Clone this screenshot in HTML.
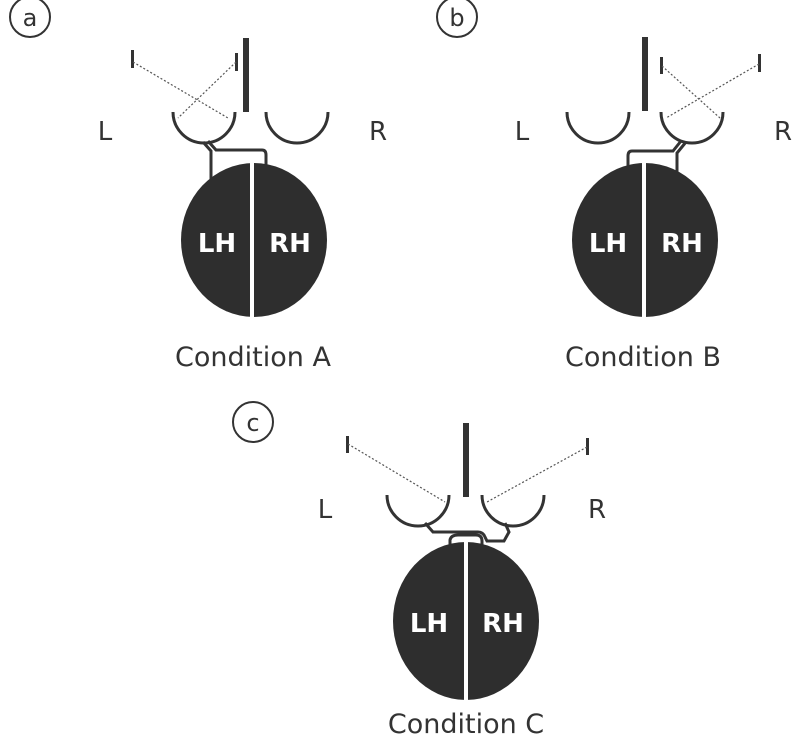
<!DOCTYPE html>
<html><head><style>body{margin:0;background:#fff}svg{display:block}</style></head><body>
<svg width="794" height="743" viewBox="0 0 794 743" xmlns="http://www.w3.org/2000/svg" font-family="'DejaVu Sans','Liberation Sans',sans-serif">
<g fill="none" stroke="#333" stroke-width="3">
<!-- labels circles -->
<circle cx="30" cy="17" r="20" stroke-width="2"/>
<circle cx="457" cy="17" r="20" stroke-width="2"/>
<circle cx="253" cy="422" r="20" stroke-width="2"/>
<!-- A cups -->
<path d="M173 112 A31 31 0 0 0 235 112"/>
<path d="M266 112 A31 31 0 0 0 328 112"/>
<path d="M208 141 L216 150 L262 150 Q266 150 266 155 L266 170"/>
<path d="M203 142 L211 151 L211 182"/>
<!-- B cups -->
<path d="M567 112 A31 31 0 0 0 629 112"/>
<path d="M661 112 A31 31 0 0 0 723 112"/>
<path d="M681 141 L673 151 L632 151 Q628 151 628 156 L628 172"/>
<path d="M686 142 L677 153 L677 172"/>
<!-- C cups -->
<path d="M387 495 A31 31 0 0 0 449 495"/>
<path d="M482 495 A31 31 0 0 0 544 495"/>
<path d="M425 523 L433 532 L478 532 Q483 532 485 537 L487 541 L504 541 L509 532 L505 523"/>
<path d="M450 545 L450 540 Q451 535 458 535 L476 535 Q482 535 482 541 L482 548"/>
</g>
<!-- bars -->
<g fill="#333">
<rect x="243" y="38" width="6" height="74"/>
<rect x="642" y="37" width="6" height="74"/>
<rect x="463" y="423" width="6" height="74"/>
<rect x="131" y="50" width="3" height="18"/>
<rect x="235" y="53" width="3" height="18"/>
<rect x="660" y="57" width="3" height="17"/>
<rect x="758" y="54" width="3" height="18"/>
<rect x="346" y="436" width="3" height="17"/>
<rect x="586" y="438" width="3" height="17"/>
</g>
<g stroke="#555" stroke-width="1.2" stroke-dasharray="2 2" fill="none">
<path d="M133 62 L228 118"/><path d="M236 62 L178 118"/>
<path d="M662 66 L720 118"/><path d="M759 64 L666 118"/>
<path d="M348 444 L445 502"/><path d="M587 447 L487 502"/>
</g>
<!-- brains -->
<g fill="#2e2e2e">
<ellipse cx="254" cy="240" rx="73" ry="77"/>
<ellipse cx="645" cy="240" rx="73" ry="77"/>
<ellipse cx="466" cy="621" rx="73" ry="79"/>
</g>
<g fill="#fff">
<rect x="250" y="163" width="4" height="156"/>
<rect x="642" y="163" width="4" height="156"/>
<rect x="464" y="541" width="4" height="161"/>
</g>
<g fill="#fff" font-size="26" font-weight="bold" text-anchor="middle">
<text x="217" y="252">LH</text><text x="290" y="252">RH</text>
<text x="608" y="252">LH</text><text x="682" y="252">RH</text>
<text x="429" y="632">LH</text><text x="503" y="632">RH</text>
</g>
<g fill="#333" font-size="26" text-anchor="middle">
<text x="30" y="26" font-size="24">a</text>
<text x="457" y="26" font-size="24">b</text>
<text x="253" y="431" font-size="24">c</text>
<text x="105" y="140">L</text><text x="378" y="140">R</text>
<text x="522" y="140">L</text><text x="783" y="140">R</text>
<text x="325" y="518">L</text><text x="597" y="518">R</text>
<text x="253" y="366" font-size="27">Condition A</text>
<text x="643" y="366" font-size="27">Condition B</text>
<text x="466" y="733" font-size="27">Condition C</text>
</g>
</svg>
</body></html>
